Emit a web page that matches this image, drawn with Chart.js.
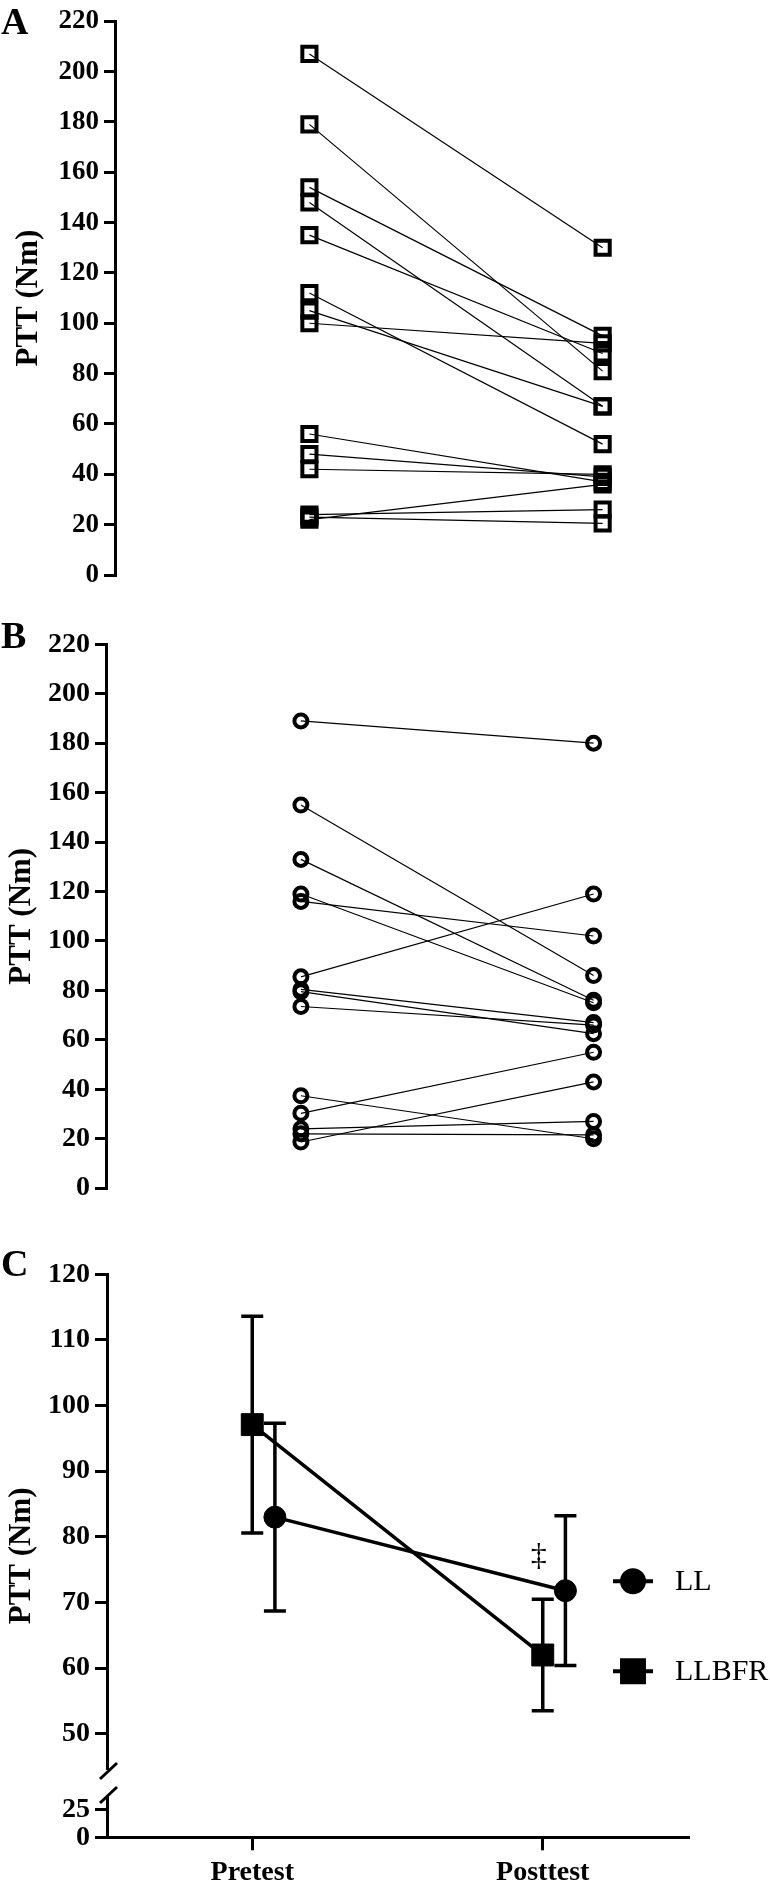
<!DOCTYPE html>
<html>
<head>
<meta charset="utf-8">
<script src="https://cdn.jsdelivr.net/npm/chart.js@4.4.1/dist/chart.umd.min.js"></script>
<style>
  html, body { margin: 0; padding: 0; background: #fff; }
  body { width: 770px; height: 1883px; position: relative; overflow: hidden; font-family: "Liberation Serif", "Times New Roman", serif; }
  .panel { position: absolute; left: 0; width: 770px; }
  .letter { position: absolute; left: 1px; font-weight: bold; font-size: 38px; line-height: 1; color: #000; }
</style>
</head>
<body>
<div class="panel" style="top:0;height:600px"><canvas id="chartA" width="770" height="600"></canvas></div>
<div class="panel" style="top:620px;height:590px"><canvas id="chartB" width="770" height="590"></canvas></div>
<div class="panel" style="top:1240px;height:643px"><canvas id="chartC" width="770" height="643"></canvas></div>
<div class="letter" style="top:2px">A</div>
<div class="letter" style="top:616px">B</div>
<div class="letter" style="top:1244px">C</div>
<script>
const groups = ['Pretest', 'Posttest'];

// panel A, LLBFR, one pair per subject
const llbfrPre  = [207, 179, 154, 148, 135, 112, 105, 100, 56, 48, 42, 24, 23, 22];
const llbfrPost = [130, 81, 95, 67, 88, 52, 67, 92, 37, 39, 40, 26, 20.5, 36];

// panel B, LL
const llPre  = [189, 155, 133, 119, 116, 85.5, 80.4, 79.5, 73.5, 37.4, 30.3, 24, 22, 18.7];
const llPost = [180, 86, 76, 75, 102, 119, 67, 62.5, 66, 20, 55, 27, 21.6, 43];

// panel C, group means with error
const llMean    = [83.0, 71.8];
const llErr     = [14.3, 11.4];
const llbfrMean = [97.1, 62.0];
const llbfrErr  = [16.5, 8.5];

// tick labels
const pairTicks = [0, 20, 40, 60, 80, 100, 120, 140, 160, 180, 200, 220];
const meanTicks = [50, 60, 70, 80, 90, 100, 110, 120];
const lowTicks  = [0, 25];

const SERIF = "'Liberation Serif', 'Times New Roman', serif";
Chart.defaults.font.family = SERIF;
Chart.defaults.color = '#000';

function pairedChart(id, pre, post, cfg) {
    const datasets = pre.map(function (v, i) {
        return {
            data: [{x: 0, y: v}, {x: 1, y: post[i]}],
            showLine: true,
            borderColor: '#000',
            borderWidth: 1.2,
            pointStyle: cfg.pointStyle,
            pointRadius: cfg.pointRadius,
            pointBorderWidth: 4,
            pointBorderColor: '#000',
            pointBackgroundColor: 'rgba(0,0,0,0)'
        };
    });

    return new Chart(document.getElementById(id), {
        type: 'scatter',
        data: { datasets: datasets },
        options: {
            responsive: false,
            animation: false,
            events: [],
            layout: { padding: cfg.padding },
            plugins: { legend: { display: false }, tooltip: { enabled: false } },
            scales: {
                x: { type: 'linear', display: false, min: cfg.xMin, max: cfg.xMax },
                y: {
                    min: 0,
                    max: 220,
                    afterBuildTicks: function (s) { s.ticks = pairTicks.map(v => ({ value: v })); },
                    ticks: { color: '#000', padding: 5, autoSkip: false, font: { size: cfg.tickSize, weight: 'bold' } },
                    grid: { drawOnChartArea: false, drawTicks: true, tickLength: 11, color: '#000', lineWidth: 3 },
                    border: { display: true, color: '#000', width: 3 },
                    title: {
                        display: true,
                        text: 'PTT (Nm)',
                        color: '#000',
                        font: { size: 31, weight: 'bold' },
                        padding: { top: cfg.titlePad, bottom: 0 }
                    },
                    afterFit: function (s) { s.width = cfg.axisX; }
                }
            }
        }
    });
}

pairedChart('chartA', llbfrPre, llbfrPost, {
    pointStyle: 'rect', pointRadius: 10, tickSize: 27, titlePad: 10, axisX: 115,
    xMin: -0.663, xMax: 1.523, padding: { top: 21, bottom: 25, left: 0, right: 10 }
});

pairedChart('chartB', llPre, llPost, {
    pointStyle: 'circle', pointRadius: 6.5, tickSize: 28, titlePad: 3, axisX: 106,
    xMin: -0.666, xMax: 1.567, padding: { top: 24.3, bottom: 16.7, left: 0, right: 10 }
});

// panel C
const llShift = 0.078;

const errorBars = {
    id: 'errorBars',
    beforeDatasetsDraw(chart) {
        const ctx = chart.ctx;
        const x = chart.scales.x, y = chart.scales.y;
        ctx.save();
        ctx.strokeStyle = '#000';
        ctx.lineWidth = 3.5;
        chart.data.datasets.forEach(function (ds) {
            ds.data.forEach(function (pt, i) {
                const px = x.getPixelForValue(pt.x);
                const top = y.getPixelForValue(pt.y + ds.errors[i]);
                const bot = y.getPixelForValue(pt.y - ds.errors[i]);
                ctx.beginPath();
                ctx.moveTo(px, top); ctx.lineTo(px, bot);
                ctx.moveTo(px - 11, top); ctx.lineTo(px + 11, top);
                ctx.moveTo(px - 11, bot); ctx.lineTo(px + 11, bot);
                ctx.stroke();
            });
        });
        ctx.restore();
    }
};

const extras = {
    id: 'extras',
    afterDraw(chart) {
        const ctx = chart.ctx;
        const area = chart.chartArea;
        const x = chart.scales.x, y = chart.scales.y;

        // axis break between the two stacked y scales
        const by = y.bottom;
        const ax = area.left;
        ctx.save();
        ctx.fillStyle = '#fff';
        ctx.fillRect(ax - 3, by - 13, 6, 26);
        ctx.strokeStyle = '#000';
        ctx.lineWidth = 3;
        [-12, 12].forEach(function (d) {
            ctx.beginPath();
            ctx.moveTo(ax - 7, by + d + 8);
            ctx.lineTo(ax + 10, by + d - 8);
            ctx.stroke();
        });

        // y title centred on the whole axis
        ctx.fillStyle = '#000';
        ctx.font = 'bold 31px ' + SERIF;
        ctx.textAlign = 'center';
        ctx.textBaseline = 'middle';
        ctx.translate(22, (area.top + area.bottom) / 2);
        ctx.rotate(-Math.PI / 2);
        ctx.fillText('PTT (Nm)', 0, 0);
        ctx.restore();

        // significance mark at posttest
        ctx.save();
        ctx.fillStyle = '#000';
        ctx.font = '32px ' + SERIF;
        ctx.textAlign = 'center';
        ctx.textBaseline = 'middle';
        ctx.fillText('\u2021', x.getPixelForValue(1) - 4, y.getPixelForValue(77));
        ctx.restore();

        // legend: line with marker, then label
        ctx.save();
        chart.data.datasets.forEach(function (ds, i) {
            const ly = area.top + 307 + i * 90;
            const lx = area.right - 55;
            ctx.strokeStyle = '#000';
            ctx.fillStyle = '#000';
            ctx.lineWidth = 4;
            ctx.beginPath();
            ctx.moveTo(lx - 20, ly); ctx.lineTo(lx + 20, ly);
            ctx.stroke();
            Chart.helpers.drawPoint(ctx, {
                pointStyle: ds.pointStyle, radius: ds.pointRadius, rotation: 0, borderWidth: 1
            }, lx, ly);
            ctx.font = '30px ' + SERIF;
            ctx.textAlign = 'left';
            ctx.textBaseline = 'middle';
            ctx.fillText(ds.label, area.right - 13, ly + 1);
        });
        ctx.restore();
    }
};

new Chart(document.getElementById('chartC'), {
    type: 'scatter',
    data: {
        datasets: [
            {
                label: 'LL',
                data: groups.map((g, i) => ({ x: i + llShift, y: llMean[i] })),
                errors: llErr,
                showLine: true,
                borderColor: '#000',
                borderWidth: 3.5,
                pointStyle: 'circle',
                pointRadius: 11,
                pointBorderWidth: 1,
                pointBorderColor: '#000',
                pointBackgroundColor: '#000',
                yAxisID: 'y'
            },
            {
                label: 'LLBFR',
                data: groups.map((g, i) => ({ x: i, y: llbfrMean[i] })),
                errors: llbfrErr,
                showLine: true,
                borderColor: '#000',
                borderWidth: 3.5,
                pointStyle: 'rect',
                pointRadius: 15.5,
                pointBorderWidth: 1,
                pointBorderColor: '#000',
                pointBackgroundColor: '#000',
                yAxisID: 'y'
            }
        ]
    },
    options: {
        responsive: false,
        animation: false,
        events: [],
        layout: { padding: { top: 34.3, bottom: 0, left: 0, right: 82 } },
        plugins: { legend: { display: false }, tooltip: { enabled: false } },
        scales: {
            x: {
                type: 'linear',
                min: -0.5,
                max: 1.5,
                afterBuildTicks: function (s) { s.ticks = groups.map((g, i) => ({ value: i })); },
                ticks: {
                    color: '#000',
                    padding: 6,
                    autoSkip: false,
                    maxRotation: 0,
                    font: { size: 28, weight: 'bold' },
                    callback: function (v) { return groups[v]; }
                },
                grid: { drawOnChartArea: false, drawTicks: true, tickLength: 13, color: '#000', lineWidth: 3 },
                border: { display: true, color: '#000', width: 3 },
                afterFit: function (s) { s.height = 45.7; }
            },
            y: {
                position: 'left',
                stack: 'ptt',
                stackWeight: 508.7,
                weight: 1,
                min: 42.5,
                max: 120,
                afterBuildTicks: function (s) { s.ticks = meanTicks.map(v => ({ value: v })); },
                ticks: { color: '#000', padding: 5, autoSkip: false, font: { size: 28, weight: 'bold' } },
                grid: { drawOnChartArea: false, drawTicks: true, tickLength: 12, color: '#000', lineWidth: 3 },
                border: { display: true, color: '#000', width: 3 },
                afterFit: function (s) { s.width = 107; }
            },
            yLow: {
                position: 'left',
                stack: 'ptt',
                stackWeight: 54.3,
                weight: 0,
                min: 0,
                max: 49.7,
                afterBuildTicks: function (s) { s.ticks = lowTicks.map(v => ({ value: v })); },
                ticks: { color: '#000', padding: 5, autoSkip: false, font: { size: 28, weight: 'bold' } },
                grid: { drawOnChartArea: false, drawTicks: true, tickLength: 12, color: '#000', lineWidth: 3 },
                border: { display: true, color: '#000', width: 3 },
                afterFit: function (s) { s.width = 107; }
            }
        }
    },
    plugins: [errorBars, extras]
});
</script>
</body>
</html>
